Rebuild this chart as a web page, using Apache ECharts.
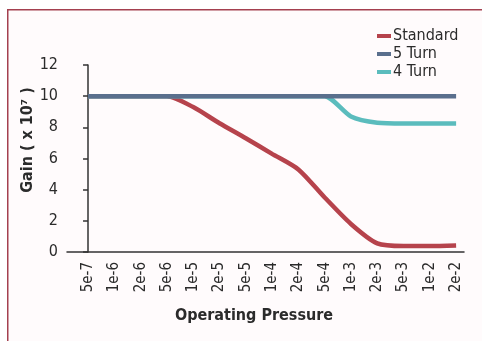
<!DOCTYPE html>
<html>
<head>
<meta charset="utf-8">
<script src="https://cdn.jsdelivr.net/npm/echarts@6/dist/echarts.min.js"></script>
<style>
  html, body { margin: 0; padding: 0; background: #ffffff; }
  #chart { width: 482px; height: 341px; }
</style>
</head>
<body>
<div id="chart"></div>
<script>
// Operating pressure categories (Torr)
const pressures = ['5e-7', '1e-6', '2e-6', '5e-6', '1e-5', '2e-5', '5e-5', '1e-4', '2e-4', '5e-4', '1e-3', '2e-3', '5e-3', '1e-2', '2e-2'];

// Gain (x 10^7) per pressure
const standardGain = [10, 10, 10, 10, 9.3, 8.26, 7.3, 6.3, 5.3, 3.5, 1.8, 0.55, 0.38, 0.38, 0.42];
const fiveTurnGain = [10, 10, 10, 10, 10, 10, 10, 10, 10, 10, 10, 10, 10, 10, 10];
const fourTurnGain = [10, 10, 10, 10, 10, 10, 10, 10, 10, 10, 8.7, 8.3, 8.25, 8.25, 8.25];

const yTicks = [0, 2, 4, 6, 8, 10, 12];

const FONT = '"DejaVu Sans Condensed", "Liberation Sans", Arial, sans-serif';
const TEXT = '#2b2b2b';

const toPairs = arr => arr.map((v, i) => [i, v]);
const idx = pressures.map((_, i) => i);

const chart = echarts.init(document.getElementById('chart'), null, { renderer: 'canvas' });

chart.setOption({
  backgroundColor: '#ffffff',
  animation: false,
  graphic: [
    {
      type: 'rect',
      left: 7, top: 9,
      shape: { width: 480, height: 340 },
      style: { fill: '#fffbfc', stroke: '#a4404f', lineWidth: 1.5 },
      z: -10
    },
    {
      // y axis title, rotated to read bottom-up
      type: 'text',
      x: 28, y: 140,
      rotation: Math.PI / 2,
      style: {
        text: 'Gain ( x 10\u2077 )',
        fontFamily: FONT, fontSize: 16, fontWeight: 'bold', fill: TEXT,
        align: 'center', verticalAlign: 'middle'
      }
    }
  ],
  textStyle: { fontFamily: FONT },
  legend: {
    orient: 'vertical',
    left: 372, top: 23,
    itemWidth: 14, itemHeight: 4,
    itemGap: 2,
    icon: 'rect',
    textStyle: { fontFamily: FONT, fontSize: 16, color: TEXT, padding: [0, 0, 0, -3] },
    data: ['Standard', '5 Turn', '4 Turn']
  },
  grid: { left: 67, right: 18, top: 65, bottom: 89, containLabel: false },
  xAxis: {
    type: 'value',
    min: -0.8, max: 14.3,
    name: 'Operating Pressure',
    nameLocation: 'middle',
    nameGap: 56,
    nameTextStyle: { fontFamily: FONT, fontSize: 16, fontWeight: 'bold', color: TEXT, padding: [0, 23, 0, 0] },
    axisLine: { lineStyle: { color: '#333', width: 1.5 } },
    axisTick: { show: false },
    splitLine: { show: false },
    axisLabel: {
      customValues: idx,
      rotate: 90,
      margin: 10,
      fontFamily: FONT, fontSize: 15, color: TEXT,
      formatter: v => pressures[Math.round(v)]
    }
  },
  yAxis: {
    type: 'value',
    min: 0, max: 12, interval: 2,
    axisLine: { show: true, lineStyle: { color: '#333', width: 1.5 } },
    axisTick: { show: true, length: 5, lineStyle: { color: '#333', width: 1.5 } },
    splitLine: { show: false },
    axisLabel: {
      margin: 9,
      fontFamily: FONT, fontSize: 16, color: TEXT,
      formatter: v => (yTicks.indexOf(v) >= 0 ? String(v) : '')
    }
  },
  series: [
    {
      name: 'Standard', type: 'line', data: toPairs(standardGain),
      smooth: 0.25, showSymbol: false, z: 2,
      color: '#b6434c',
      lineStyle: { width: 4.5, color: '#b6434c' }
    },
    {
      name: '5 Turn', type: 'line', data: toPairs(fiveTurnGain),
      smooth: 0.25, showSymbol: false, z: 4,
      color: '#5a6f8d',
      lineStyle: { width: 4.5, color: '#5a6f8d' }
    },
    {
      name: '4 Turn', type: 'line', data: toPairs(fourTurnGain),
      smooth: 0.25, showSymbol: false, z: 3,
      color: '#5bbcbd',
      lineStyle: { width: 4.5, color: '#5bbcbd' }
    }
  ]
});
</script>
</body>
</html>
